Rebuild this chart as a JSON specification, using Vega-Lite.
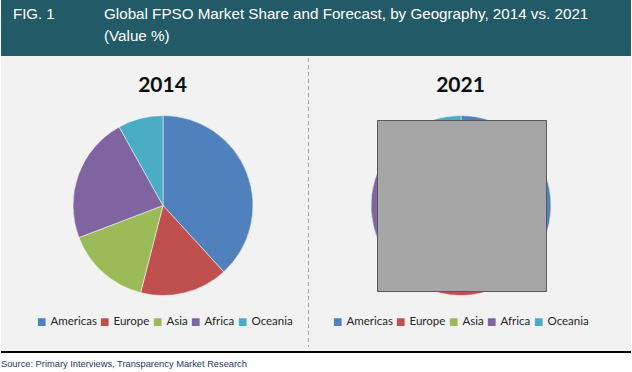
{
  "$schema": "https://vega.github.io/schema/vega-lite/v6.json",
  "width": 632,
  "height": 372,
  "autosize": {"type": "fit", "contains": "padding"},
  "padding": 0,
  "background": "#ffffff",
  "config": {"view": {"stroke": null}},
  "datasets": {
    "shares": [
      {"year": "2014", "region": "Americas", "ord": 1, "share": 38.2},
      {"year": "2014", "region": "Europe", "ord": 2, "share": 15.8},
      {"year": "2014", "region": "Asia", "ord": 3, "share": 15.2},
      {"year": "2014", "region": "Africa", "ord": 4, "share": 22.7},
      {"year": "2014", "region": "Oceania", "ord": 5, "share": 8.1},
      {"year": "2021", "region": "Americas", "ord": 1, "share": 37.5},
      {"year": "2021", "region": "Europe", "ord": 2, "share": 16.5},
      {"year": "2021", "region": "Asia", "ord": 3, "share": 14.5},
      {"year": "2021", "region": "Africa", "ord": 4, "share": 22.5},
      {"year": "2021", "region": "Oceania", "ord": 5, "share": 9.0}
    ],
    "one": [{}]
  },
  "layer": [
    {
      "data": {"name": "one"},
      "mark": {"type": "rect", "fill": "#f2f2f2"},
      "encoding": {"x": {"value": 0}, "x2": {"value": "width"}, "y": {"value": 56}, "y2": {"value": 351}}
    },
    {
      "data": {"name": "one"},
      "mark": {"type": "rect", "fill": "#235a68"},
      "encoding": {"x": {"value": 0}, "x2": {"value": "width"}, "y": {"value": 0}, "y2": {"value": 56}}
    },
    {
      "data": {"name": "one"},
      "mark": {"type": "rule", "stroke": "#000000", "strokeWidth": 2},
      "encoding": {"x": {"value": 0}, "x2": {"value": "width"}, "y": {"value": 352}}
    },
    {
      "data": {"name": "one"},
      "mark": {"type": "rule", "stroke": "#a6a6a6", "strokeWidth": 1, "strokeDash": [4, 3]},
      "encoding": {"x": {"value": 307.5}, "y": {"value": 58}, "y2": {"value": 347}}
    },
    {
      "data": {"name": "one"},
      "mark": {"type": "text", "font": "Liberation Sans", "fontSize": 15, "color": "#ffffff", "align": "left", "baseline": "middle"},
      "encoding": {"x": {"value": 12}, "y": {"value": 14}, "text": {"value": "FIG. 1"}}
    },
    {
      "data": {"name": "one"},
      "mark": {"type": "text", "font": "Liberation Sans", "fontSize": 15.2, "color": "#ffffff", "align": "left", "baseline": "middle"},
      "encoding": {"x": {"value": 103}, "y": {"value": 14}, "text": {"value": "Global FPSO Market Share and Forecast, by Geography, 2014 vs. 2021"}}
    },
    {
      "data": {"name": "one"},
      "mark": {"type": "text", "font": "Liberation Sans", "fontSize": 15.2, "color": "#ffffff", "align": "left", "baseline": "middle"},
      "encoding": {"x": {"value": 103}, "y": {"value": 36}, "text": {"value": "(Value %)"}}
    },
    {
      "data": {"name": "one"},
      "mark": {"type": "text", "font": "Liberation Sans", "fontSize": 9.3, "color": "#1f3864", "align": "left", "baseline": "middle"},
      "encoding": {"x": {"value": 0}, "y": {"value": 364}, "text": {"value": "Source: Primary Interviews, Transparency Market Research"}}
    },
    {
      "data": {"name": "one"},
      "mark": {"type": "text", "font": "Lato", "fontSize": 21, "fontWeight": "bold", "color": "#0d0d0d", "align": "center", "baseline": "middle"},
      "encoding": {"x": {"value": 161.5}, "y": {"value": 86}, "text": {"value": "2014"}}
    },
    {
      "data": {"name": "one"},
      "mark": {"type": "text", "font": "Lato", "fontSize": 21, "fontWeight": "bold", "color": "#0d0d0d", "align": "center", "baseline": "middle"},
      "encoding": {"x": {"value": 459.5}, "y": {"value": 86}, "text": {"value": "2021"}}
    },
    {
      "data": {"name": "shares"},
      "transform": [{"filter": "datum.year == '2014'"}],
      "mark": {"type": "arc", "radius": 90, "stroke": "#ffffff", "strokeWidth": 0.5},
      "encoding": {
        "x": {"value": 162},
        "y": {"value": 205.5},
        "theta": {"field": "share", "type": "quantitative", "stack": true},
        "order": {"field": "ord", "type": "quantitative"},
        "color": {
          "field": "region",
          "type": "nominal",
          "sort": ["Americas", "Europe", "Asia", "Africa", "Oceania"],
          "scale": {"range": ["#4f81bd", "#c0504d", "#9bbb59", "#8064a2", "#4bacc6"]},
          "legend": {"orient": "none", "legendX": 35, "legendY": 316, "direction": "horizontal", "title": null, "symbolType": "square", "symbolSize": 60, "symbolStrokeWidth": 0, "labelFont": "Lato", "labelFontSize": 11.5, "labelColor": "#262626", "columnPadding": 2, "labelOffset": 3}
        }
      }
    },
    {
      "data": {"name": "shares"},
      "transform": [{"filter": "datum.year == '2021'"}],
      "mark": {"type": "arc", "radius": 90, "stroke": "#ffffff", "strokeWidth": 0.5},
      "encoding": {
        "x": {"value": 460},
        "y": {"value": 205.5},
        "theta": {"field": "share", "type": "quantitative", "stack": true},
        "order": {"field": "ord", "type": "quantitative"},
        "fill": {
          "field": "region",
          "type": "nominal",
          "sort": ["Americas", "Europe", "Asia", "Africa", "Oceania"],
          "scale": {"range": ["#4f81bd", "#c0504d", "#9bbb59", "#8064a2", "#4bacc6"]},
          "legend": {"orient": "none", "legendX": 331, "legendY": 316, "direction": "horizontal", "title": null, "symbolType": "square", "symbolSize": 60, "symbolStrokeWidth": 0, "labelFont": "Lato", "labelFontSize": 11.5, "labelColor": "#262626", "columnPadding": 2, "labelOffset": 3}
        }
      }
    },
    {
      "data": {"name": "one"},
      "mark": {"type": "rect", "fill": "#a6a6a6", "stroke": "#595959", "strokeWidth": 1},
      "encoding": {"x": {"value": 376.5}, "x2": {"value": 545.5}, "y": {"value": 120.5}, "y2": {"value": 291.5}}
    }
  ]
}
